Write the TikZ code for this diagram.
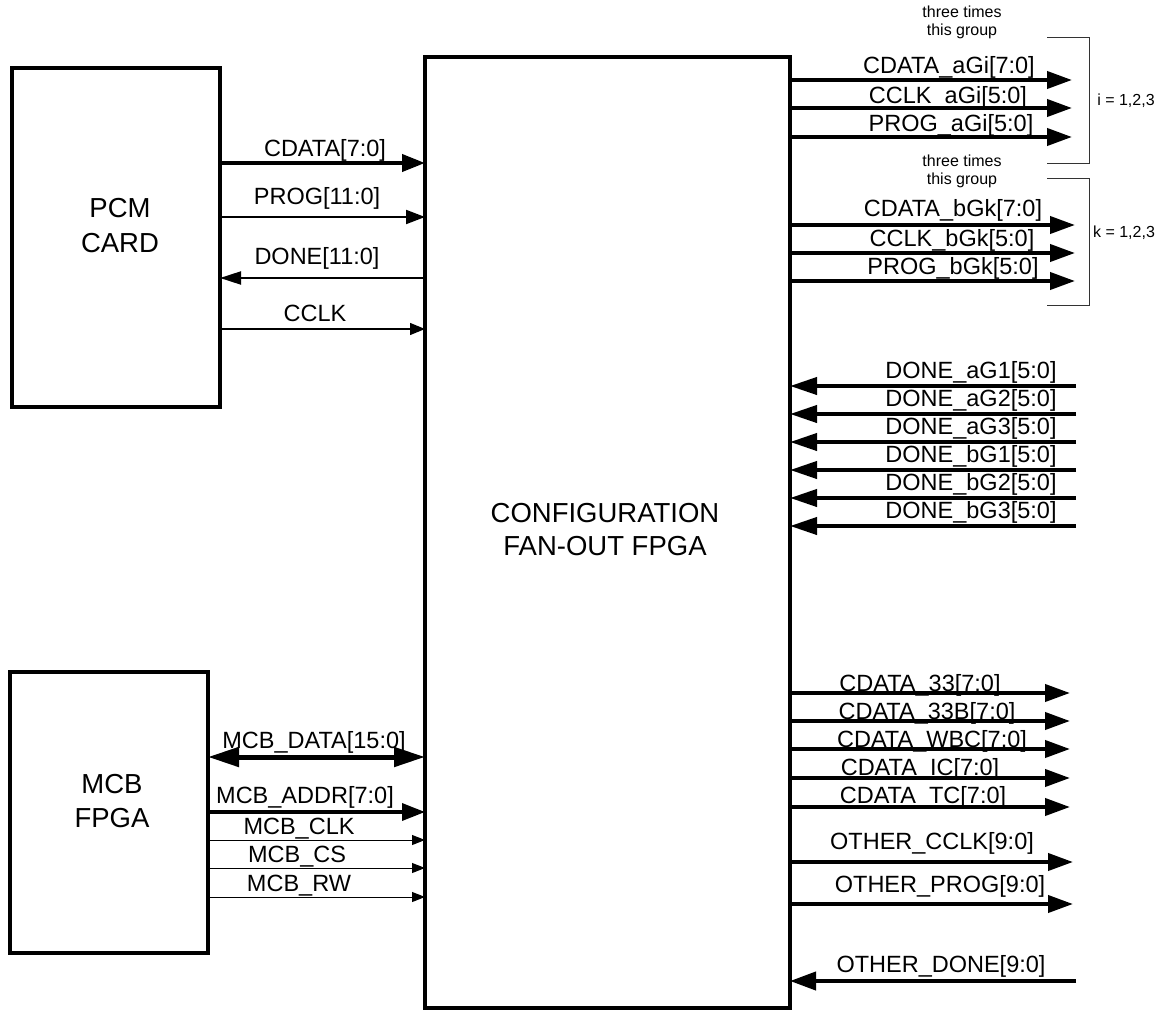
\documentclass[tikz,border=0pt]{standalone}
\usepackage{fontspec}
\setmainfont{Liberation Sans}
\usetikzlibrary{arrows.meta}
\begin{document}
\begin{tikzpicture}[x=1pt,y=-1pt,
  box/.style={draw, line width=3.5pt, outer sep=0pt, inner sep=0pt},
  lbl/.style={anchor=base, inner sep=0pt, font=\fontsize{23.5}{27}\selectfont},
  bigtxt/.style={anchor=base, inner sep=0pt, font=\fontsize{27.5}{34}\selectfont},
  smalltxt/.style={anchor=base, inner sep=0pt, font=\fontsize{16}{19}\selectfont},
  bus/.style={line width=4pt, -{Triangle[length=25pt,width=17pt]}},
  busdone/.style={line width=4pt, -{Triangle[length=27pt,width=17pt]}},
  busbi/.style={line width=5pt, {Triangle[length=31pt,width=19pt]}-{Triangle[length=31pt,width=19pt]}},
  busaddr/.style={line width=3.5pt, -{Triangle[length=23pt,width=17pt]}},
  midwire/.style={line width=2pt, -{Triangle[length=19pt,width=14pt]}},
  thinwire/.style={line width=1.2pt, -{Triangle[length=15pt,width=12pt]}},
  finewire/.style={line width=1pt, -{Triangle[length=13pt,width=10pt]}},
  bracketline/.style={line width=1pt, draw=black!80}
]
\useasboundingbox (0,0) rectangle (1162,1011);

% boxes
\node[box] (pcm) at (116,237.5) [minimum width=208pt, minimum height=339pt] {};
\node[box] (mcb) at (109,812.5) [minimum width=198pt, minimum height=281pt] {};
\node[box, line width=4pt] (fpga) at (607.5,532.5) [minimum width=365pt, minimum height=951pt] {};

% box texts
\node[bigtxt] (pcmt1) at (120,218) {PCM};
\node[bigtxt] (pcmt2) at (120,252) {CARD};
\node[bigtxt] (mcbt1) at (112,793) {MCB};
\node[bigtxt] (mcbt2) at (112,827) {FPGA};
\node[bigtxt] (fpgat1) at (605,522) {CONFIGURATION};
\node[bigtxt] (fpgat2) at (605,555) {FAN-OUT FPGA};

% PCM connectors
\coordinate (pc1) at (0,163);
\coordinate (pc2) at (0,217);
\coordinate (pc3) at (0,278);
\coordinate (pc4) at (0,329);
\draw[bus, -{Triangle[length=23pt,width=17pt]}] (pcm.east |- pc1) -- (fpga.west |- pc1);
\draw[midwire] (pcm.east |- pc2) -- (fpga.west |- pc2);
\draw[midwire, -{Triangle[length=21pt,width=13pt]}] (fpga.west |- pc3) -- (pcm.east |- pc3);
\draw[thinwire] (pcm.east |- pc4) -- (fpga.west |- pc4);
\node[lbl] (lpc1) at (325,157) {CDATA[7:0]};
\node[lbl] (lpc2) at (317,205) {PROG[11:0]};
\node[lbl] (lpc3) at (317,265) {DONE[11:0]};
\node[lbl] (lpc4) at (315,321) {CCLK};

% MCB connectors
\coordinate (mc1) at (0,757);
\coordinate (mc2) at (0,812);
\coordinate (mc3) at (0,840);
\coordinate (mc4) at (0,868);
\coordinate (mc5) at (0,897);
\draw[busbi] (mcb.east |- mc1) -- (fpga.west |- mc1);
\draw[busaddr] (mcb.east |- mc2) -- (fpga.west |- mc2);
\draw[finewire] (mcb.east |- mc3) -- (fpga.west |- mc3);
\draw[finewire] (mcb.east |- mc4) -- (fpga.west |- mc4);
\draw[finewire] (mcb.east |- mc5) -- (fpga.west |- mc5);
\node[lbl] (lmc1) at (314,748) {MCB\_DATA[15:0]};
\node[lbl] (lmc2) at (305,803) {MCB\_ADDR[7:0]};
\node[lbl] (lmc3) at (299,834) {MCB\_CLK};
\node[lbl] (lmc4) at (297,862) {MCB\_CS};
\node[lbl] (lmc5) at (299,891) {MCB\_RW};

% group a
\coordinate (ra1) at (1072,80);
\coordinate (ra2) at (1072,108);
\coordinate (ra3) at (1072,137);
\draw[bus] (fpga.east |- ra1) -- (ra1);
\draw[bus] (fpga.east |- ra2) -- (ra2);
\draw[bus] (fpga.east |- ra3) -- (ra3);
\node[lbl] (lra1) at (949,74) {CDATA\_aGi[7:0]};
\node[lbl] (lra2) at (948,104) {CCLK\_aGi[5:0]};
\node[lbl] (lra3) at (951,132) {PROG\_aGi[5:0]};
\node[smalltxt] (ta1) at (962,18) {three times};
\node[smalltxt] (ta2) at (962,36) {this group};
\draw[bracketline] (1047,38) -- (1089,38) -- (1089,164) -- (1047,164);
\node[smalltxt] (ia) at (1126,106) {i = 1,2,3};

% group b
\coordinate (rb1) at (1075,225);
\coordinate (rb2) at (1075,253);
\coordinate (rb3) at (1075,281);
\draw[bus] (fpga.east |- rb1) -- (rb1);
\draw[bus] (fpga.east |- rb2) -- (rb2);
\draw[bus] (fpga.east |- rb3) -- (rb3);
\node[lbl] (lrb1) at (953,217) {CDATA\_bGk[7:0]};
\node[lbl] (lrb2) at (952,247) {CCLK\_bGk[5:0]};
\node[lbl] (lrb3) at (953,274) {PROG\_bGk[5:0]};
\node[smalltxt] (tb1) at (962,167) {three times};
\node[smalltxt] (tb2) at (962,185) {this group};
\draw[bracketline] (1047,179) -- (1089,179) -- (1089,305) -- (1047,305);
\node[smalltxt] (kb) at (1124,238) {k = 1,2,3};

% DONE inputs
\coordinate (d1) at (1076,386);
\coordinate (d2) at (1076,414);
\coordinate (d3) at (1076,442);
\coordinate (d4) at (1076,470);
\coordinate (d5) at (1076,498);
\coordinate (d6) at (1076,526);
\draw[busdone] (d1) -- (fpga.east |- d1);
\draw[busdone] (d2) -- (fpga.east |- d2);
\draw[busdone] (d3) -- (fpga.east |- d3);
\draw[busdone] (d4) -- (fpga.east |- d4);
\draw[busdone] (d5) -- (fpga.east |- d5);
\draw[busdone] (d6) -- (fpga.east |- d6);
\node[lbl] (ld1) at (971,378) {DONE\_aG1[5:0]};
\node[lbl] (ld2) at (971,406) {DONE\_aG2[5:0]};
\node[lbl] (ld3) at (971,434) {DONE\_aG3[5:0]};
\node[lbl] (ld4) at (971,462) {DONE\_bG1[5:0]};
\node[lbl] (ld5) at (971,490) {DONE\_bG2[5:0]};
\node[lbl] (ld6) at (971,518) {DONE\_bG3[5:0]};

% other outputs
\coordinate (o1) at (1070,693);
\coordinate (o2) at (1070,721);
\coordinate (o3) at (1070,749);
\coordinate (o4) at (1070,778);
\coordinate (o5) at (1070,807);
\coordinate (o6) at (1073,862);
\coordinate (o7) at (1073,904);
\coordinate (o8) at (1076,981);
\draw[bus] (fpga.east |- o1) -- (o1);
\draw[bus] (fpga.east |- o2) -- (o2);
\draw[bus] (fpga.east |- o3) -- (o3);
\draw[bus] (fpga.east |- o4) -- (o4);
\draw[bus] (fpga.east |- o5) -- (o5);
\draw[bus] (fpga.east |- o6) -- (o6);
\draw[bus] (fpga.east |- o7) -- (o7);
\draw[busdone, -{Triangle[length=26pt,width=18pt]}] (o8) -- (fpga.east |- o8);
\node[lbl] (lo1) at (920,691) {CDATA\_33[7:0]};
\node[lbl] (lo2) at (927,719) {CDATA\_33B[7:0]};
\node[lbl] (lo3) at (932,747) {CDATA\_WBC[7:0]};
\node[lbl] (lo4) at (920,775) {CDATA\_IC[7:0]};
\node[lbl] (lo5) at (923,803) {CDATA\_TC[7:0]};
\node[lbl] (lo6) at (932,849) {OTHER\_CCLK[9:0]};
\node[lbl] (lo7) at (940,892) {OTHER\_PROG[9:0]};
\node[lbl] (lo8) at (941,972) {OTHER\_DONE[9:0]};
\end{tikzpicture}
\end{document}
